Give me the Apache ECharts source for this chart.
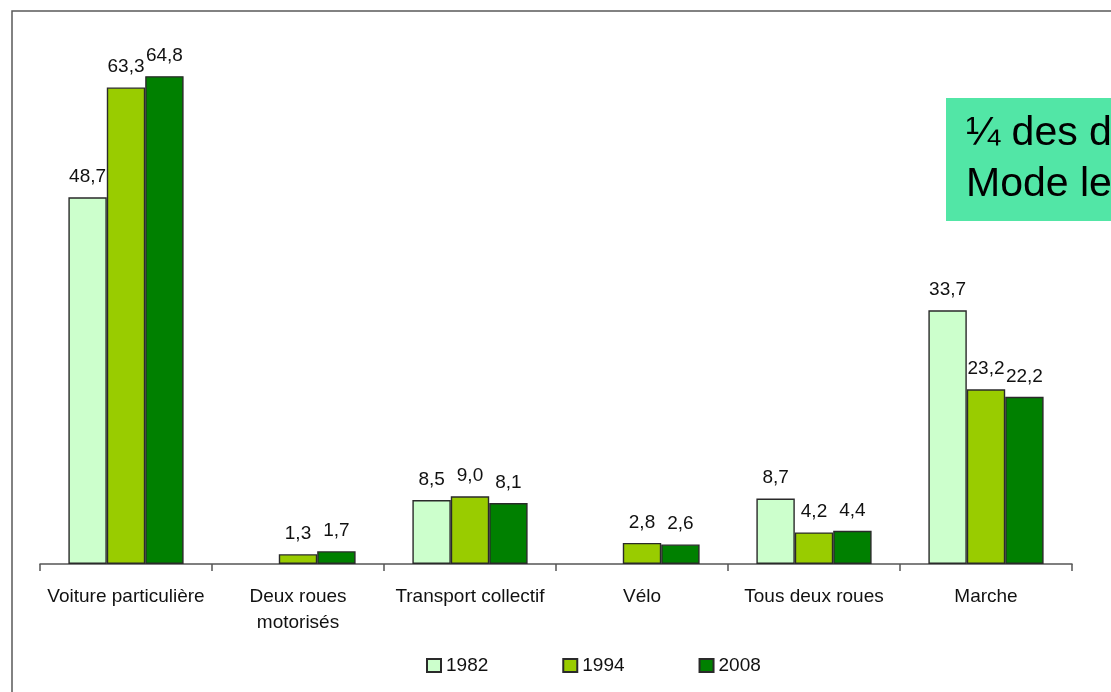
<!DOCTYPE html>
<html>
<head>
<meta charset="utf-8">
<script src="https://cdn.jsdelivr.net/npm/echarts@6/dist/echarts.min.js"></script>
<style>html,body{margin:0;padding:0;background:#fff;}#c{width:1111px;height:692px;}</style>
</head>
<body>
<div id="c"></div>
<script>
var categories = ['Voiture particulière', 'Deux roues\nmotorisés', 'Transport collectif', 'Vélo', 'Tous deux roues', 'Marche'];
var years = ['1982', '1994', '2008'];
var v1982 = [48.7, null, 8.5, null, 8.7, 33.7];
var v1994 = [63.3, 1.3, 9.0, 2.8, 4.2, 23.2];
var v2008 = [64.8, 1.7, 8.1, 2.6, 4.4, 22.2];
var colors = ['#CCFFCC', '#99CC00', '#008000'];
var boxLines = ['¼ des d', 'Mode le'];

var chart = echarts.init(document.getElementById('c'));
var font = 'Liberation Sans, Arial, sans-serif';
function mk(name, data, color) {
  return {
    name: name, type: 'bar', data: data,
    barGap: '0%', barCategoryGap: '33%',
    itemStyle: { color: color, borderColor: '#2a2a2a', borderWidth: 1.4 },
    label: {
      show: true, position: 'top', distance: 11,
      fontFamily: font, fontSize: 19, color: '#111',
      formatter: function (p) { return p.value == null ? '' : p.value.toFixed(1).replace('.', ','); }
    },
    emphasis: { disabled: true }
  };
}
chart.setOption({
  animation: false,
  grid: { left: 40, right: 39, top: 37, bottom: 128 },
  legend: {
    data: years, left: 421, top: 651, itemWidth: 14, itemHeight: 13, itemGap: 74,
    icon: 'rect', textStyle: { fontFamily: font, fontSize: 19, color: '#111' }
  },
  xAxis: {
    type: 'category', data: categories,
    axisLine: { lineStyle: { color: '#555', width: 1.5 } },
    axisTick: { show: true, length: 7, lineStyle: { color: '#555', width: 1.5 } },
    axisLabel: { interval: 0, margin: 20, fontFamily: font, fontSize: 19, color: '#111', lineHeight: 26 }
  },
  yAxis: { type: 'value', min: 0, max: 70, show: false, splitLine: { show: false } },
  series: [mk(years[0], v1982, colors[0]), mk(years[1], v1994, colors[1]), mk(years[2], v2008, colors[2])],
  graphic: [
    { type: 'rect', shape: { x: 12, y: 11, width: 1300, height: 900 }, style: { fill: 'none', stroke: '#5a5a5a', lineWidth: 1.5 }, z: -1 },
    { type: 'rect', shape: { x: 946, y: 98, width: 200, height: 123 }, style: { fill: '#52E6A6' } },
    { type: 'text', x: 966, y: 134, style: { text: boxLines[0], fontFamily: font, fontSize: 41, fill: '#000', verticalAlign: 'middle', align: 'left' } },
    { type: 'text', x: 966, y: 185, style: { text: boxLines[1], fontFamily: font, fontSize: 41, fill: '#000', verticalAlign: 'middle', align: 'left' } }
  ]
});
</script>
</body>
</html>
